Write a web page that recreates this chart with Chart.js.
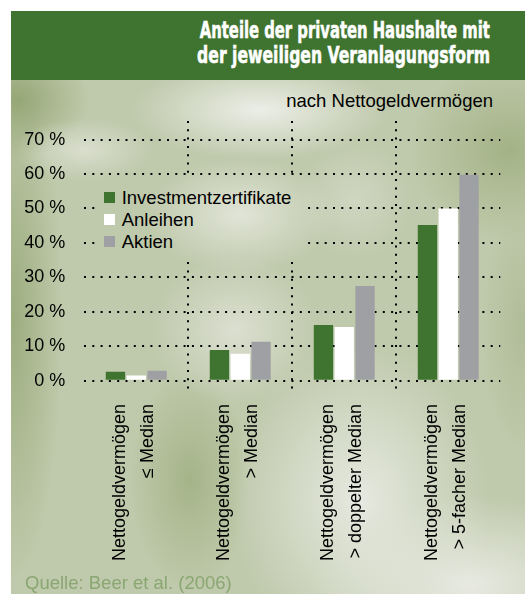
<!DOCTYPE html>
<html><head><meta charset="utf-8">
<script src="https://cdn.jsdelivr.net/npm/chart.js@4/dist/chart.umd.min.js"></script>
<style>
html,body{margin:0;padding:0;background:#fff;width:525px;height:594px;overflow:hidden;}
.bgfix{
 background-color:#bfc9ab;
 background-image:
  radial-gradient(ellipse 130px 50px at 260px 110px, rgba(236,238,231,1), rgba(236,238,231,0)),
  radial-gradient(ellipse 70px 32px at 85px 150px, rgba(222,226,212,.85), rgba(222,226,212,0)),
  radial-gradient(ellipse 95px 58px at 240px 215px, rgba(228,231,220,.9), rgba(228,231,220,0)),
  radial-gradient(ellipse 85px 75px at 235px 330px, rgba(224,227,215,.85), rgba(224,227,215,0)),
  radial-gradient(ellipse 130px 160px at 360px 500px, rgba(230,233,224,1), rgba(230,233,224,0)),
  radial-gradient(ellipse 160px 90px at 470px 585px, rgba(232,234,226,1), rgba(232,234,226,0)),
  radial-gradient(ellipse 60px 60px at 355px 200px, rgba(215,220,203,.7), rgba(215,220,203,0)),
  radial-gradient(ellipse 50px 260px at 12px 320px, rgba(150,168,118,.85), rgba(150,168,118,0)),
  radial-gradient(ellipse 70px 60px at 18px 100px, rgba(145,163,112,.9), rgba(145,163,112,0)),
  radial-gradient(ellipse 100px 90px at 510px 150px, rgba(160,176,130,.9), rgba(160,176,130,0)),
  radial-gradient(ellipse 60px 110px at 190px 480px, rgba(160,176,130,.85), rgba(160,176,130,0)),
  radial-gradient(ellipse 40px 120px at 522px 330px, rgba(170,184,145,.7), rgba(170,184,145,0));
 background-attachment:fixed;
}
#bg{position:absolute;left:11px;top:11px;width:514px;height:583px;}
#banner{position:absolute;left:11px;top:11px;width:514px;height:69px;background:#3f7430;}
.title{position:absolute;right:35px;font-family:"DejaVu Sans",sans-serif;font-weight:bold;font-size:23px;line-height:26px;color:#fff;white-space:nowrap;transform-origin:right center;-webkit-text-stroke:0.6px #fff;}
.txt{position:absolute;font-family:"Liberation Sans",Arial,sans-serif;font-size:18.5px;line-height:20px;white-space:nowrap;}
#c{position:absolute;left:0;top:0;}
#legend{position:absolute;left:97px;top:179px;width:208px;height:83px;}
.lrow{position:absolute;left:0;height:22px;width:208px;font-family:"Liberation Sans",Arial,sans-serif;font-size:18.5px;line-height:22px;color:#000;white-space:nowrap;}
.lbox{position:absolute;left:7px;top:5.5px;width:11px;height:11px;}
.ltxt{position:absolute;left:24.7px;top:0;}
</style></head>
<body>
<div id="bg" class="bgfix"></div>
<div id="banner"></div>
<div class="title" id="t1" style="top:17px">Anteile der privaten Haushalte mit</div>
<div class="title" id="t2" style="top:42px">der jeweiligen Veranlagungsform</div>
<div class="txt" style="right:32px;top:91.3px;color:#000">nach Nettogeldvermögen</div>
<canvas id="c" width="525" height="594"></canvas>
<div id="legend" class="bgfix"></div>
<div class="txt" style="left:25px;top:572.6px;color:#8aa672">Quelle: Beer et al. (2006)</div>
<script>
const categories = [
  ['Nettogeldvermögen', '≤ Median'],
  ['Nettogeldvermögen', '> Median'],
  ['Nettogeldvermögen', '> doppelter Median'],
  ['Nettogeldvermögen', '> 5-facher Median']
];
const seriesNames = ['Investmentzertifikate', 'Anleihen', 'Aktien'];
const investmentzertifikate = [2.6, 8.9, 16.2, 45.2];
const anleihen = [1.5, 7.8, 15.6, 50.0];
const aktien = [2.9, 11.3, 27.5, 59.8];
const yTicks = [0, 10, 20, 30, 40, 50, 60, 70];

const colors = ['#3e7430', '#ffffff', '#9fa0a4'];
const FONT = '"Liberation Sans", Arial, sans-serif';

// scale title lines to width of the condensed headline
[['t1', 290], ['t2', 293]].forEach(([id, w]) => {
  const el = document.getElementById(id);
  const cw = el.getBoundingClientRect().width;
  el.style.transform = 'scaleX(' + (w / cw) + ')';
});

Chart.defaults.font.family = FONT;
const chart = new Chart(document.getElementById('c'), {
  type: 'bar',
  data: {
    labels: categories,
    datasets: [
      { label: seriesNames[0], data: investmentzertifikate, backgroundColor: colors[0] },
      { label: seriesNames[1], data: anleihen, backgroundColor: colors[1] },
      { label: seriesNames[2], data: aktien, backgroundColor: colors[2] }
    ]
  },
  options: {
    responsive: false,
    animation: false,
    devicePixelRatio: 1,
    layout: { padding: { top: 121, right: 24.75, left: 0, bottom: 0 } },
    datasets: { bar: { categoryPercentage: 0.6, barPercentage: 0.93, borderWidth: 0 } },
    plugins: { legend: { display: false }, tooltip: { enabled: false } },
    scales: {
      x: {
        z: 1,
        offset: true,
        grid: {
          offset: true,
          drawTicks: false,
          lineWidth: 2,
          color: (ctx) => (ctx.index === 0 || ctx.index === undefined) ? 'rgba(0,0,0,0)' : '#000'
        },
        border: { display: false, dash: [2, 6.3] },
        ticks: {
          autoSkip: false,
          minRotation: 90,
          maxRotation: 90,
          padding: 9,
          labelOffset: -16,
          color: '#000',
          font: { size: 18, lineHeight: 28 / 18 }
        },
        afterFit: (s) => { s.height = 199; s.paddingLeft = 0; s.paddingRight = 0; }
      },
      y: {
        z: 1,
        min: -4.15,
        max: 75.38,
        grid: { drawTicks: false, lineWidth: 2, color: '#000' },
        border: { display: false, dash: [2, 6.3] },
        afterBuildTicks: (s) => { s.ticks = yTicks.map(v => ({ value: v })); },
        afterFit: (s) => { s.width = 84.25; },
        ticks: {
          padding: 19,
          color: '#000',
          font: { size: 18 },
          callback: (v) => v + ' %'
        }
      }
    }
  }
});

// legend built from the chart's datasets
const leg = document.getElementById('legend');
chart.data.datasets.forEach((ds, i) => {
  const row = document.createElement('div');
  row.className = 'lrow';
  row.style.top = (7.6 + 22 * i) + 'px';
  const b = document.createElement('div');
  b.className = 'lbox';
  b.style.background = ds.backgroundColor;
  const t = document.createElement('div');
  t.className = 'ltxt';
  t.textContent = ds.label;
  row.appendChild(b); row.appendChild(t);
  leg.appendChild(row);
});
</script>
</body></html>
